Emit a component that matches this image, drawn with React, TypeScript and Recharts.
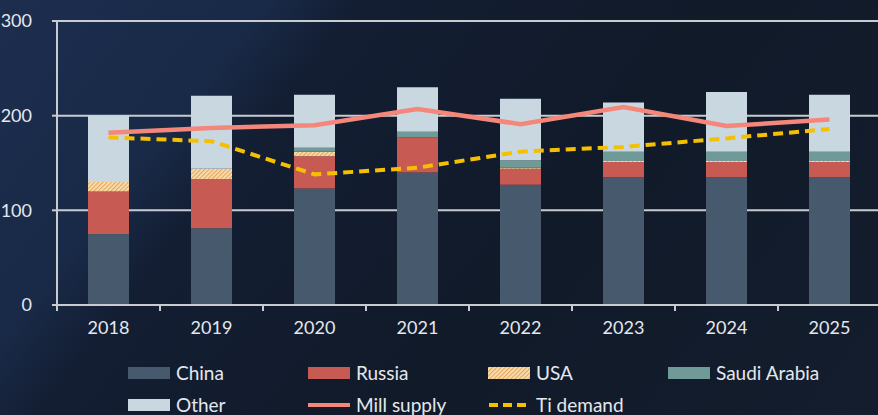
import { ComposedChart, Bar, Line, XAxis, YAxis, CartesianGrid } from 'recharts';

const years = ['2018', '2019', '2020', '2021', '2022', '2023', '2024', '2025'];
const china = [75, 81, 123, 140, 127, 135, 135, 135];
const russia = [45, 52, 34, 37, 17, 16, 16, 16];
const usa = [10, 11, 5, 0, 1, 1, 1, 1];
const saudi = [0, 0, 4, 6, 8, 10, 10, 10];
const other = [70, 77, 56, 47, 65, 52, 63, 60];
const millSupply = [182, 187, 190, 207, 191, 209, 189, 196];
const tiDemand = [177, 173, 138, 145, 162, 167, 176, 186];
const yTicks = [0, 100, 200, 300];

const colors = {
  china: '#475a6d',
  russia: '#c85a54',
  usaBase: '#f7e2b4',
  usaStripe: '#e8a45c',
  saudi: '#6f9a98',
  other: '#c9d7e1',
  mill: '#f4877a',
  ti: '#f5c000',
  axis: '#c8ccd0',
  text: '#e4e8ee',
};

const data = years.map((year, i) => ({
  year,
  china: china[i],
  russia: russia[i],
  usa: usa[i],
  saudi: saudi[i],
  other: other[i],
  mill: millSupply[i],
  ti: tiDemand[i],
}));

const font = 'Lato, "Open Sans", sans-serif';

function YearTick(props: any) {
  const { x, y, payload } = props;
  const half = payload.offset || 0;
  return (
    <g>
      <line x1={x - half} x2={x - half} y1={y} y2={y + 6} stroke={colors.axis} strokeWidth={2} />
      <text x={x} y={y + 29} textAnchor="middle" fill={colors.text} fontSize={18} fontFamily={font}>
        {payload.value}
      </text>
    </g>
  );
}

function Swatch({ kind }: { kind: string }) {
  if (kind === 'mill') {
    return (
      <svg width={42} height={12}>
        <line x1={0} x2={42} y1={6} y2={6} stroke={colors.mill} strokeWidth={4} />
      </svg>
    );
  }
  if (kind === 'ti') {
    return (
      <svg width={42} height={12}>
        <line x1={1} x2={42} y1={6} y2={6} stroke={colors.ti} strokeWidth={4} strokeDasharray="9 5" />
      </svg>
    );
  }
  const fill = kind === 'usa' ? 'url(#usaHatchLegend)' : (colors as any)[kind];
  return (
    <svg width={42} height={12}>
      <defs>
        <pattern id="usaHatchLegend" width="3" height="3" patternUnits="userSpaceOnUse" patternTransform="rotate(45)">
          <rect width="3" height="3" fill={colors.usaBase} />
          <rect width="1.2" height="3" fill={colors.usaStripe} />
        </pattern>
      </defs>
      <rect width={42} height={12} fill={fill} />
    </svg>
  );
}

const legendItems = [
  { key: 'china', label: 'China', left: 128, top: 366 },
  { key: 'russia', label: 'Russia', left: 308, top: 366 },
  { key: 'usa', label: 'USA', left: 488, top: 366 },
  { key: 'saudi', label: 'Saudi Arabia', left: 668, top: 366 },
  { key: 'other', label: 'Other', left: 128, top: 398 },
  { key: 'mill', label: 'Mill supply', left: 308, top: 398 },
  { key: 'ti', label: 'Ti demand', left: 488, top: 398 },
];

export default function App() {
  return (
    <div
      style={{
        position: 'relative',
        width: 878,
        height: 415,
        overflow: 'hidden',
        background:
          'linear-gradient(128deg, #1c2d4e 0%, #192a48 22%, #131e33 30%, #111a29 60%, #131d2d 100%)',
      }}
    >
      <style>{'body{margin:0}'}</style>
      <ComposedChart
        width={884}
        height={345}
        data={data}
        margin={{ top: 21, right: 3, left: 0, bottom: 0 }}
        barSize={41}
      >
        <defs>
          <pattern id="usaHatch" width="3" height="3" patternUnits="userSpaceOnUse" patternTransform="rotate(45)">
            <rect width="3" height="3" fill={colors.usaBase} />
            <rect width="1.2" height="3" fill={colors.usaStripe} />
          </pattern>
        </defs>
        <CartesianGrid vertical={false} stroke={colors.axis} strokeWidth={2} />
        <XAxis
          dataKey="year"
          height={40}
          stroke={colors.axis}
          strokeWidth={2}
          tickLine={false}
          tickSize={0}
          tickMargin={0}
          tick={<YearTick />}
          interval={0}
        />
        <YAxis
          width={57}
          domain={[0, 300]}
          ticks={yTicks}
          stroke={colors.axis}
          strokeWidth={2}
          tickSize={5}
          tickMargin={20}
          tick={{ fill: colors.text, fontSize: 18, fontFamily: font }}
        />
        <Bar dataKey="china" stackId="a" fill={colors.china} isAnimationActive={false} />
        <Bar dataKey="russia" stackId="a" fill={colors.russia} isAnimationActive={false} />
        <Bar dataKey="usa" stackId="a" fill="url(#usaHatch)" isAnimationActive={false} />
        <Bar dataKey="saudi" stackId="a" fill={colors.saudi} isAnimationActive={false} />
        <Bar dataKey="other" stackId="a" fill={colors.other} isAnimationActive={false} />
        <Line dataKey="mill" type="linear" stroke={colors.mill} strokeWidth={4.5} dot={false} isAnimationActive={false} />
        <Line
          dataKey="ti"
          type="linear"
          stroke={colors.ti}
          strokeWidth={4}
          strokeDasharray="10 6"
          dot={false}
          isAnimationActive={false}
        />
      </ComposedChart>
      {legendItems.map((item) => (
        <div
          key={item.key}
          style={{
            position: 'absolute',
            left: item.left,
            top: item.top,
            display: 'flex',
            alignItems: 'center',
            gap: 6,
            color: colors.text,
            fontFamily: font,
            fontSize: 19,
            lineHeight: '14px',
            whiteSpace: 'nowrap',
          }}
        >
          <Swatch kind={item.key} />
          <span>{item.label}</span>
        </div>
      ))}
    </div>
  );
}
